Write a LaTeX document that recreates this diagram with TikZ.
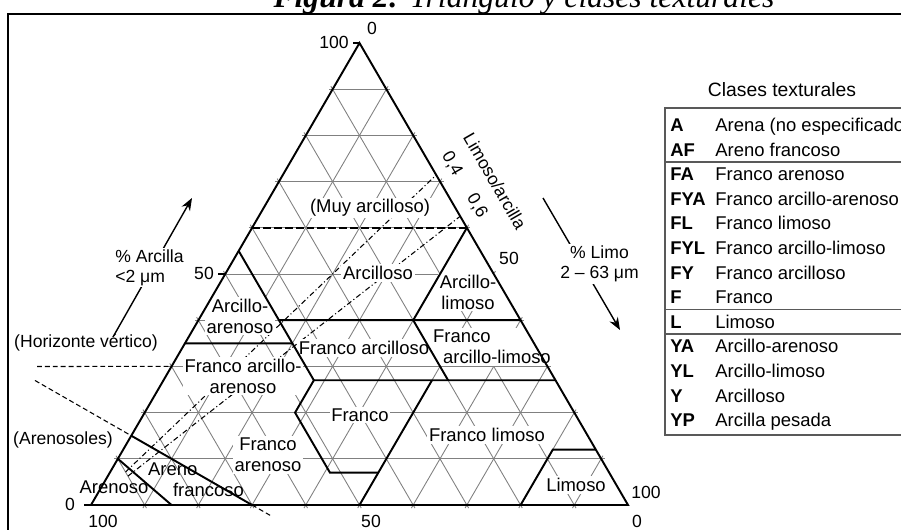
\documentclass[tikz,border=0pt]{standalone}
\usepackage{fontspec}
\setmainfont{Liberation Serif}
\setsansfont{Liberation Sans}
\usetikzlibrary{arrows.meta, calc, math}
\tikzset{
titletext/.style = {anchor = base, inner sep = 0pt,
   font = \rmfamily\itshape\fontsize{18}{20}\selectfont},
rimline/.style = {line width = 1.1pt, line join = miter},
classline/.style = {line width = 1.1pt},
grid10/.style = {gray, line width = 0.5pt, shorten > = -2pt, shorten < = -2pt},
ratioline/.style = {line width = 0.6pt, dash pattern = on 3pt off 1.5pt on 0.6pt off 1.5pt},
guideline/.style = {line width = 0.6pt, dash pattern = on 2.8pt off 1.7pt},
axistick/.style = {line width = 0.6pt},
classlabel/.style = {fill = white, inner sep = 1pt, align = center,
   font = \sffamily\fontsize{10.5}{12}\selectfont},
axisnum/.style = {inner sep = 0pt, font = \sffamily\fontsize{10}{11}\selectfont},
sidelabel/.style = {inner sep = 1pt, font = \sffamily\fontsize{10}{11.5}\selectfont},
ratiolabel/.style = {rotate = -60, inner sep = 0pt, font = \sffamily\fontsize{10}{11}\selectfont},
axisarrow/.style = {-{Stealth[length = 2.5mm, width = 1.9mm]}, line width = 0.8pt},
legendline/.style = {draw = gray!70!black, line width = 0.6pt},
legtitle/.style = {inner sep = 0pt, font = \sffamily\fontsize{11}{12}\selectfont},
legcode/.style = {anchor = base west, inner sep = 0pt,
   font = \sffamily\bfseries\fontsize{10.5}{12}\selectfont},
legname/.style = {anchor = base west, inner sep = 0pt,
   font = \sffamily\fontsize{10.5}{12}\selectfont}
}

\begin{document}
\begin{tikzpicture}
\useasboundingbox (0,0) rectangle (18.02,10.58);

%% Frame and caption
\draw [line width = 1pt] (0.16,-0.5) rectangle (18.6,10.30);
\node [titletext] (title) at (10.48,10.44) {\textbf{Figura 2:} Triángulo y clases texturales};

%% Corners: A = 100 % arena, B = 100 % limo, C = 100 % arcilla
\coordinate (A) at (1.82,0.48);
\coordinate (B) at (12.56,0.48);
\coordinate (C) at (7.19,9.72);

%% Grid every 10 %
\foreach \i in {1,...,9} {
   \tikzmath{\j = int(10 - \i);}
   \draw [grid10] (barycentric cs:A=\j,C=\i) -- (barycentric cs:B=\j,C=\i);   % arcilla
   \draw [grid10] (barycentric cs:A=\j,B=\i) -- (barycentric cs:B=\i,C=\j);   % limo
   \draw [grid10] (barycentric cs:A=\i,B=\j) -- (barycentric cs:A=\i,C=\j);   % arena
}

%% Limo/arcilla ratio lines
\coordinate (r4) at (barycentric cs:B=2,C=5);
\coordinate (r6) at (barycentric cs:B=3,C=5);
\draw [ratioline] ($(A)!0.1!(r4)$) -- (r4);
\draw [ratioline] ($(A)!0.1!(r6)$) -- (r6);
\node [ratiolabel] (q4) at (9.04,7.30) {0,4};
\node [ratiolabel] (q6) at (9.54,6.46) {0,6};
\node [ratiolabel] (qname) at (9.90,6.96) {Limoso/arcilla};

%% Classes
\node [classlabel] (yp) at (7.40,6.42) {(Muy arcilloso)};
\node [classlabel] (y) at (7.56,5.12) {Arcilloso};
\node [classlabel] (yl) at (9.36,4.74) {Arcillo-\\limoso};
\node [classlabel] (ya) at (4.80,4.26) {Arcillo-\\arenoso};
\node [classlabel] (fy) at (7.28,3.62) {Franco arcilloso};
\node [classlabel, anchor = west, align = left] (fyl) at (8.62,3.64) {Franco\\\hspace*{0.2cm}arcillo-limoso};
\node [classlabel] (fya) at (4.86,3.06) {Franco arcillo-\\arenoso};
\node [classlabel] (f) at (7.20,2.28) {Franco};
\node [classlabel] (fl) at (9.74,1.88) {Franco limoso};
\node [classlabel] (fa) at (5.36,1.48) {Franco\\arenoso};
\node [classlabel] (l) at (11.52,0.88) {Limoso};
\node [classlabel, fill = none, anchor = west, align = left] (af) at (2.92,0.98) {Areno\\\hspace*{0.5cm}francoso};
\node [classlabel, fill = none] (a) at (2.28,0.84) {Arenoso};

%% Class boundaries (weights: arena A, limo B, arcilla C)
\draw [classline] (barycentric cs:A=.85,B=.15) -- (barycentric cs:A=.9,C=.1);
\coordinate (ls1) at (barycentric cs:A=.85,C=.15);
\coordinate (ls2) at (barycentric cs:A=.7,B=.3);
\draw [classline] (ls1) -- (ls2);
\draw [classline] (barycentric cs:A=.45,C=.55) -- (barycentric cs:A=.45,B=.28,C=.27)
   -- (barycentric cs:A=.52,B=.28,C=.2) -- (barycentric cs:A=.52,B=.41,C=.07)
   -- (barycentric cs:A=.43,B=.5,C=.07);
\draw [classline] (barycentric cs:A=.5,B=.5) -- (barycentric cs:A=.23,B=.5,C=.27);
\draw [classline] (barycentric cs:A=.45,B=.28,C=.27) -- (barycentric cs:B=.73,C=.27);
\draw [classline] (barycentric cs:A=.65,C=.35) -- (barycentric cs:A=.45,B=.2,C=.35);
\draw [classline] (barycentric cs:A=.45,B=.15,C=.4) -- (barycentric cs:B=.6,C=.4);
\draw [classline] (barycentric cs:A=.2,B=.53,C=.27) -- (barycentric cs:A=.2,B=.4,C=.4)
   -- (barycentric cs:B=.4,C=.6);
\draw [classline] (barycentric cs:A=.2,B=.8) -- (barycentric cs:A=.08,B=.8,C=.12)
   -- (barycentric cs:B=.88,C=.12);
\draw [classline, dash pattern = on 4.5pt off 1.7pt] (barycentric cs:A=.4,C=.6) -- (barycentric cs:B=.4,C=.6);

%% Triangle
\draw [rimline] (A) -- (B) -- (C) -- cycle;
\draw [axistick] (C) -- ++(-0.14,0);
\draw [axistick] (A) -- ++(-0.14,0);
\draw [axistick] (barycentric cs:A=.5,C=.5) -- ++(-0.14,0);

%% Axis numbers
\node [axisnum] (c100) at (6.68,9.74) {100};
\node [axisnum] (s0) at (7.44,10.02) {0};
\node [axisnum] (c50) at (4.08,5.12) {50};
\node [axisnum] (c0) at (1.40,0.50) {0};
\node [axisnum] (a100) at (2.06,0.15) {100};
\node [axisnum] (a50) at (7.42,0.16) {50};
\node [axisnum] (a0) at (12.74,0.16) {0};
\node [axisnum] (s100) at (12.92,0.74) {100};
\node [axisnum] (s50) at (10.18,5.42) {50};

%% Axis arrows
\coordinate (arc0) at (2.26,3.84);
\coordinate (arc1) at (3.84,6.62);
\draw [axisarrow] (arc0) -- node [sidelabel, fill = white, align = left, xshift = -0.06cm] (arcilla)
   {\% Arcilla\\<2 μm} (arc1);
\coordinate (lim0) at (10.86,6.62);
\coordinate (lim1) at (12.40,3.98);
\draw [axisarrow] (lim0) -- node [sidelabel, fill = white, align = center, xshift = 0.36cm] (limo)
   {\% Limo\\2 \textendash{} 63 μm} (lim1);

%% Soil groups
\node [sidelabel] (hv) at (1.72,3.72) {(Horizonte vértico)};
\coordinate (hv0) at (0.74,3.25);
\draw [guideline] (hv0) -- (barycentric cs:A=.7,C=.3);
\node [sidelabel] (ars) at (1.26,1.78) {(Arenosoles)};
\draw [guideline] ($(ls1)!-2.22cm!(ls2)$) -- (ls1);
\draw [guideline] (ls2) -- ($(ls2)!-0.42cm!(ls1)$);

%% Legend
\node [legtitle] (legend) at (15.64,8.78) {Clases texturales};
\draw [legendline] (13.30,1.88) rectangle (18.6,8.42);
\foreach \y in {7.34, 4.39, 3.90}
   \draw [legendline] (13.30,\y) -- (18.6,\y);
\foreach \abbr/\cls [count = \i from 0] in {A/{Arena (no especificado)}, AF/Areno francoso,
   FA/Franco arenoso, FYA/Franco arcillo-arenoso, FL/Franco limoso,
   FYL/Franco arcillo-limoso, FY/Franco arcilloso, F/Franco, L/Limoso,
   YA/Arcillo-arenoso, YL/Arcillo-limoso, Y/Arcilloso, YP/Arcilla pesada} {
   \tikzmath{\y = 7.95 - 0.492 * \i;}
   \node [legcode] (code\i) at (13.40,\y) {\abbr};
   \node [legname] (name\i) at (14.30,\y) {\cls};
}

\end{tikzpicture}
\end{document}
